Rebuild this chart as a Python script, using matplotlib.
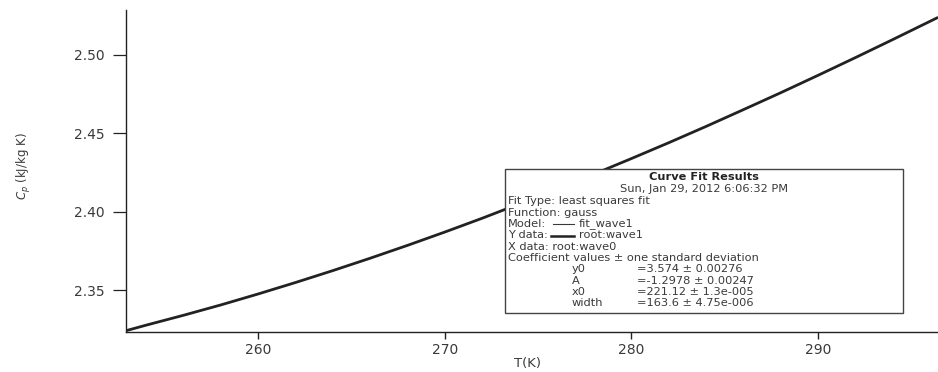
"""
Heat capacity Cp(T) with Gaussian curve-fit summary box.
Saves out.png (938x372).
"""

import matplotlib
matplotlib.use("Agg")
import matplotlib.pyplot as plt
from matplotlib.patches import Rectangle
from matplotlib.lines import Line2D

# ── Data ──────────────────────────────────────────────────────────────────────
T_K = [252.9, 254.0, 256.0, 258.0, 260.0, 262.0, 264.0, 266.0, 268.0,
       270.0, 272.0, 274.0, 276.0, 278.0, 280.0, 282.0, 284.0, 286.0,
       288.0, 290.0, 292.0, 294.0, 296.4]
CP = [2.3240, 2.3276, 2.3339, 2.3405, 2.3475, 2.3548, 2.3624, 2.3703,
      2.3785, 2.3870, 2.3958, 2.4050, 2.4143, 2.4240, 2.4339, 2.4440,
      2.4544, 2.4651, 2.4759, 2.4870, 2.4983, 2.5098, 2.5238]

X_TICKS = [260, 270, 280, 290]
Y_TICKS = [2.35, 2.40, 2.45, 2.50]

FIT_HEADER = [
    "Fit Type: least squares fit",
    "Function: gauss",
]
COEF_NAMES = ["y0", "A", "x0", "width"]
COEF_VALUES = ["=3.574 ± 0.00276", "=-1.2978 ± 0.00247",
               "=221.12 ± 1.3e-005", "=163.6 ± 4.75e-006"]

# ── Style ─────────────────────────────────────────────────────────────────────
W, H = 938, 372
INK = "#222222"
TXT = "#3a3a3a"
plt.rcParams.update({
    "font.family": ["DejaVu Sans"],
    "axes.edgecolor": INK,
    "axes.linewidth": 1.0,
})

fig = plt.figure(figsize=(W / 100, H / 100), dpi=100)
fig.patch.set_facecolor("white")


def fx(px):
    return px / W


def fy(py):
    return 1 - py / H


ax = fig.add_axes([fx(126), fy(332), 1 - fx(126), fy(10) - fy(332)])
ax.plot(T_K, CP, color=INK, linewidth=2.0, solid_capstyle="round")

ax.set_xlim(252.91, 296.43)
ax.set_ylim(2.3232, 2.5287)
ax.spines["top"].set_visible(False)
ax.spines["right"].set_visible(False)

ax.set_xticks(X_TICKS)
ax.set_xticklabels([str(v) for v in X_TICKS])
ax.set_yticks(Y_TICKS)
ax.set_yticklabels([f"{v:.2f}" for v in Y_TICKS])
ax.tick_params(axis="x", length=5, width=1.0, pad=3, labelsize=10,
               labelcolor=TXT, color=INK)
ax.tick_params(axis="y", length=9.5, width=0.9, pad=6, labelsize=10,
               labelcolor=TXT, color=INK)

fig.text(fx(24), fy(166), "$C_p$ (kJ/kg K)", rotation=90,
         ha="center", va="center", fontsize=8.5, color=TXT,
         family=["Liberation Sans Narrow", "DejaVu Sans"])
fig.text(fx(528), fy(364), "T(K)", ha="center", va="center",
         fontsize=9.5, color=TXT)

# ── Curve fit results box ─────────────────────────────────────────────────────
bx0, by0, bx1, by1 = 505, 169, 903, 313
fig.add_artist(Rectangle((fx(bx0), fy(by1)), fx(bx1 - bx0), fy(by0) - fy(by1),
                         transform=fig.transFigure, facecolor="white",
                         edgecolor="#444444", linewidth=1.0, zorder=5))

fs = 8.2
cx = (bx0 + bx1) / 2
fig.text(fx(cx), fy(177), "Curve Fit Results", ha="center", va="center",
         fontsize=fs, fontweight="bold", color=INK, zorder=6)
fig.text(fx(cx), fy(189), "Sun, Jan 29, 2012 6:06:32 PM", ha="center",
         va="center", fontsize=fs, color=TXT, zorder=6)

lx = 508
for i, line in enumerate(FIT_HEADER):
    fig.text(fx(lx), fy(201 + 11.5 * i), line, ha="left", va="center",
             fontsize=fs, color=TXT, zorder=6)

# Model / Y data rows with their line samples
fig.text(fx(lx), fy(224), "Model:", ha="left", va="center",
         fontsize=fs, color=TXT, zorder=6)
fig.add_artist(Line2D([fx(553), fx(574)], [fy(224), fy(224)],
                      transform=fig.transFigure, color=TXT, linewidth=0.8,
                      zorder=6))
fig.text(fx(579), fy(224), "fit_wave1", ha="left", va="center",
         fontsize=fs, color=TXT, zorder=6)

fig.text(fx(lx), fy(235.5), "Y data:", ha="left", va="center",
         fontsize=fs, color=TXT, zorder=6)
fig.add_artist(Line2D([fx(551), fx(574)], [fy(235.5), fy(235.5)],
                      transform=fig.transFigure, color=INK, linewidth=1.8,
                      zorder=6))
fig.text(fx(579), fy(235.5), "root:wave1", ha="left", va="center",
         fontsize=fs, color=TXT, zorder=6)

fig.text(fx(lx), fy(247), "X data: root:wave0", ha="left", va="center",
         fontsize=fs, color=TXT, zorder=6)
fig.text(fx(lx), fy(258), "Coefficient values ± one standard deviation",
         ha="left", va="center", fontsize=fs, color=TXT, zorder=6)

for i, (name, val) in enumerate(zip(COEF_NAMES, COEF_VALUES)):
    y = 269.5 + 11.2 * i
    fig.text(fx(572), fy(y), name, ha="left", va="center",
             fontsize=fs, color=TXT, zorder=6)
    fig.text(fx(637), fy(y), val, ha="left", va="center",
             fontsize=fs, color=TXT, zorder=6)

fig.savefig("out.png", dpi=100, facecolor="white")
